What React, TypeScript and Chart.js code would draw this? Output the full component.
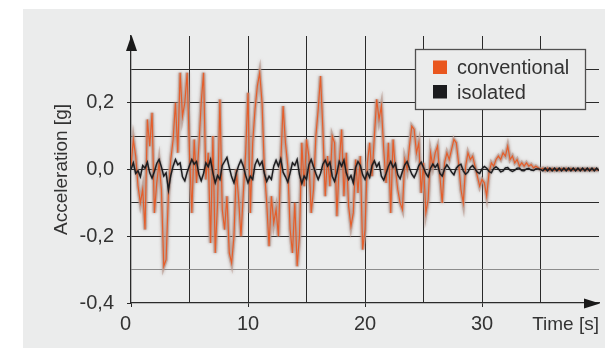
import { useEffect, useRef } from "react";
import { Chart, registerables } from "chart.js";

Chart.register(...registerables);

// ---- data -------------------------------------------------------------
const SAMPLE_STEP_S = 0.2; // sampling interval of both records [s]

const SERIES_NAMES = ["conventional", "isolated"];

// acceleration [g], conventional building, t = 0 ... 40 s
const CONVENTIONAL = [
  0.01, 0.09, 0.04, -0.05, -0.10, -0.06, -0.18, 0.15, 0.07, 0.17,
  -0.13, -0.04, 0.02, -0.06, -0.29, -0.27, -0.07, 0.03, 0.09, 0.20,
  0.05, 0.29, 0.16, 0.20, 0.29, 0.05, -0.13, 0.09, -0.04, 0.07,
  0.20, 0.29, -0.03, 0.05, -0.22, 0.10, -0.25, -0.10, 0.21, -0.12,
  -0.18, -0.08, -0.25, -0.28, -0.20, 0.00, -0.09, -0.20, -0.07, 0.05,
  0.23, -0.13, 0.08, 0.18, 0.25, 0.29, 0.20, 0.00, -0.10, -0.23,
  -0.08, -0.16, -0.12, -0.20, 0.02, 0.19, 0.08, 0.01, -0.18, -0.25,
  -0.10, -0.29, -0.20, 0.08, -0.05, 0.09, 0.04, -0.13, -0.06, 0.10,
  0.18, 0.28, 0.12, -0.08, 0.04, -0.05, 0.10, 0.08, -0.14, 0.02,
  0.12, -0.08, 0.05, -0.11, -0.17, -0.13, 0.03, -0.07, 0.04, -0.24,
  -0.18, 0.02, 0.08, -0.02, 0.10, 0.21, 0.15, 0.19, 0.06, -0.04,
  0.08, -0.13, 0.09, 0.00, -0.06, -0.10, -0.12, 0.03, 0.00, 0.07,
  0.13, 0.12, 0.05, 0.08, -0.07, 0.02, -0.13, -0.09, 0.05, 0.01,
  0.05, 0.07, -0.02, -0.10, 0.02, 0.05, 0.03, 0.06, 0.09, 0.08,
  0.02, -0.06, -0.10, 0.01, 0.05, 0.03, 0.04, 0.01, -0.02, -0.05,
  -0.03, -0.04, -0.08, -0.01, 0.02, 0.01, 0.03, 0.04, 0.03, 0.05,
  0.04, 0.07, 0.03, 0.04, 0.02, 0.03, 0.01, 0.02, 0.01, 0.02,
  0.01, 0.015, 0.005, 0.01, 0.005, 0.0,
  0.004, -0.003, 0.004, -0.003, 0.003, -0.003, 0.003, -0.003, 0.003, -0.002,
  0.003, -0.002, 0.003, -0.002, 0.002, -0.002, 0.002, -0.002, 0.002, -0.002,
  0.002, -0.002, 0.002, -0.002, 0.0,
];

// acceleration [g], base-isolated building, t = 0 ... 40 s
const ISOLATED = [
  0.00, 0.02, -0.012, -0.004, -0.022, 0.012, 0.004, 0.022, -0.01, -0.026,
  -0.006, 0.018, 0.03, 0.008, -0.02, -0.01, -0.062, -0.018, 0.01, 0.03,
  0.014, 0.02, -0.022, -0.034, -0.008, 0.012, 0.03, 0.016, 0.024, -0.014,
  -0.034, -0.012, 0.02, 0.008, 0.03, -0.01, -0.04, -0.018, -0.03, 0.012,
  0.024, 0.036, 0.006, -0.022, -0.04, -0.01, 0.012, 0.028, 0.01, -0.018,
  -0.04, -0.02, -0.03, 0.014, 0.03, 0.012, 0.024, -0.012, -0.036, -0.02,
  -0.03, 0.01, 0.028, 0.01, 0.032, -0.008, -0.022, -0.038, -0.01, 0.02,
  0.012, 0.03, -0.016, -0.042, -0.02, -0.03, 0.014, 0.03, 0.008, -0.012,
  -0.03, -0.012, 0.016, 0.028, 0.01, 0.022, -0.02, -0.036, -0.01, 0.024,
  0.01, 0.028, -0.01, -0.03, -0.018, -0.04, 0.006, 0.024, 0.012, -0.016,
  -0.03, -0.008, -0.024, 0.012, 0.026, 0.008, 0.02, -0.02, -0.032, -0.012,
  0.01, 0.024, 0.006, 0.018, -0.016, -0.028, -0.006, 0.014, 0.024, 0.004,
  -0.014, -0.024, -0.008, 0.012, 0.022, 0.006, -0.012, -0.022, 0.004, 0.016,
  0.006, 0.016, -0.012, -0.02, 0.002, 0.014, 0.004, -0.008, -0.016, 0.004,
  0.012, 0.016, -0.004, -0.014, -0.008, 0.006, 0.012, 0.002, -0.008, -0.012,
  0.002, 0.009, 0.004, -0.006, -0.01, 0.003, 0.008, 0.002, -0.007, -0.004,
  0.005, 0.006, -0.002, -0.006, -0.002, 0.004, 0.004, -0.003, -0.004, 0.002,
  0.003, -0.002, -0.003, 0.002, 0.002, 0.00,
  -0.004, 0.004, -0.004, 0.004, -0.004, 0.004, -0.004, 0.004, -0.004, 0.004,
  -0.004, 0.004, -0.004, 0.004, -0.004, 0.004, -0.004, 0.004, -0.004, 0.004,
  -0.004, 0.004, -0.004, 0.004, -0.004,
];

const X_MIN = 0;
const X_MAX = 40;
const X_STEP = 5;
const X_TICK_LABELS = [0, 10, 20, 30];
const Y_MIN = -0.4;
const Y_MAX = 0.4;
const Y_STEP = 0.1;
const Y_TICK_LABELS = [-0.4, -0.2, 0, 0.2];
const X_TITLE = "Time [s]";
const Y_TITLE = "Acceleration [g]";

// ---- styles -----------------------------------------------------------
const FONT = "'Liberation Sans', Arial, sans-serif";
const TEXT = "#333333";
const PANEL = "#ebecec";
const GRID = "#2a2a2a";
const ORANGE = "#e9571f";
const BLACK = "#1c1c1f";
const HALO_KEY = "conventional (halo)";

const toPoints = (vals: number[]) =>
  vals.map((v, i) => ({ x: +(i * SAMPLE_STEP_S).toFixed(2), y: v }));

const decor = {
  id: "decor",
  beforeDraw(chart: any) {
    const { ctx, width, height } = chart;
    ctx.save();
    ctx.fillStyle = "#ffffff";
    ctx.fillRect(0, 0, width, height);
    ctx.fillStyle = PANEL;
    ctx.fillRect(23, 9, width - 23, height - 10);
    ctx.restore();
  },
  beforeDatasetDraw(chart: any, args: any) {
    const ds = chart.data.datasets[args.index];
    chart.ctx.save();
    if (ds.label === HALO_KEY) {
      chart.ctx.shadowColor = "rgba(150,118,110,0.8)";
      chart.ctx.shadowBlur = 3;
    } else if (ds.label === SERIES_NAMES[1]) {
      chart.ctx.shadowColor = "rgba(40,35,35,0.6)";
      chart.ctx.shadowBlur = 2;
    }
  },
  afterDatasetDraw(chart: any) {
    chart.ctx.restore();
  },
  afterDraw(chart: any) {
    const { ctx, chartArea } = chart;
    const { left, right, top, bottom } = chartArea;
    ctx.save();
    ctx.fillStyle = "#1a1a1a";
    // y arrow
    const ax = Math.round(left) + 0.5;
    ctx.beginPath();
    ctx.moveTo(ax, top - 1);
    ctx.lineTo(ax - 5.5, top + 15);
    ctx.lineTo(ax + 5.5, top + 15);
    ctx.closePath();
    ctx.fill();
    // x arrow
    const ay = Math.round(bottom) + 0.5;
    ctx.beginPath();
    ctx.moveTo(right + 1, ay);
    ctx.lineTo(right - 15, ay - 5);
    ctx.lineTo(right - 15, ay + 5);
    ctx.closePath();
    ctx.fill();

    // x title at the end of the axis
    ctx.fillStyle = TEXT;
    ctx.font = `19px ${FONT}`;
    ctx.textAlign = "right";
    ctx.textBaseline = "alphabetic";
    ctx.fillText(X_TITLE, right, 330);

    // legend
    const bx = 415.5, by = 49.5, bw = 170, bh = 60;
    ctx.fillStyle = PANEL;
    ctx.fillRect(bx, by, bw, bh);
    ctx.strokeStyle = "#505050";
    ctx.lineWidth = 1.3;
    ctx.strokeRect(bx, by, bw, bh);
    const order = SERIES_NAMES.map((n) =>
      chart.data.datasets.find((d: any) => d.label === n)
    );
    ctx.font = `20px ${FONT}`;
    ctx.textAlign = "left";
    order.forEach((d: any, i: number) => {
      const y0 = 60.5 + i * 24.5;
      ctx.fillStyle = d.legendColor;
      ctx.fillRect(433, y0, 14, 13.5);
      ctx.fillStyle = TEXT;
      ctx.fillText(d.label, 457, y0 + 13.5);
    });
    ctx.restore();
  },
};

export default function App() {
  const ref = useRef<HTMLCanvasElement | null>(null);

  useEffect(() => {
    if (!ref.current) return;
    const chart = new Chart(ref.current, {
      type: "line",
      data: {
        datasets: [
          {
            label: SERIES_NAMES[1],
            legendColor: BLACK,
            data: toPoints(ISOLATED),
            borderColor: BLACK,
            borderWidth: 1.4,
            pointRadius: 0,
            tension: 0,
          },
          {
            label: SERIES_NAMES[0],
            legendColor: ORANGE,
            data: toPoints(CONVENTIONAL),
            borderColor: "rgba(233,87,31,0.9)",
            borderWidth: 1.2,
            pointRadius: 0,
            tension: 0,
          },
          {
            label: HALO_KEY,
            data: toPoints(CONVENTIONAL),
            borderColor: "rgba(190,160,150,0.75)",
            borderWidth: 3.5,
            pointRadius: 0,
            tension: 0,
          },
        ],
      },
      options: {
        animation: false,
        responsive: false,
        devicePixelRatio: 1,
        layout: { padding: { left: 0, right: 6, top: 36, bottom: 0 } },
        plugins: {
          legend: { display: false },
          tooltip: { enabled: false },
        },
        scales: {
          x: {
            type: "linear",
            min: X_MIN,
            max: X_MAX,
            afterFit: (s: any) => {
              s.height = 46;
            },
            ticks: {
              stepSize: X_STEP,
              autoSkip: false,
              maxRotation: 0,
              padding: 5,
              color: TEXT,
              font: { family: FONT, size: 20 },
              callback: (v: any) => {
                const n = Number(v);
                if (!X_TICK_LABELS.includes(n)) return "";
                return n === 0 ? "0\u2007" : String(n);
              },
            },
            grid: {
              color: (c: any) => {
                const v = c.tick ? c.tick.value : 0;
                return v === X_MIN || v === X_MAX ? "rgba(0,0,0,0)" : GRID;
              },
              lineWidth: 1,
              tickLength: 4,
              tickColor: (c: any) =>
                c.tick && X_TICK_LABELS.includes(c.tick.value) ? GRID : "rgba(0,0,0,0)",
            },
            border: { display: true, color: GRID, width: 1.3 },
          },
          y: {
            type: "linear",
            min: Y_MIN,
            max: Y_MAX,
            afterFit: (s: any) => {
              s.width = 131;
            },
            title: {
              display: true,
              text: Y_TITLE,
              color: TEXT,
              font: { family: FONT, size: 19 },
              padding: { top: 50.5, bottom: 0 },
            },
            ticks: {
              stepSize: Y_STEP,
              autoSkip: false,
              padding: 13,
              color: TEXT,
              font: { family: FONT, size: 20 },
              callback: (v: any) => {
                const k = Math.round(Number(v) * 10);
                const hit = Y_TICK_LABELS.some((l) => Math.round(l * 10) === k);
                return hit ? (k / 10).toFixed(1).replace(".", ",") : "";
              },
            },
            grid: {
              color: (c: any) => {
                const k = c.tick ? Math.round(c.tick.value * 10) : 0;
                if (k === 4 || k === -4) return "rgba(0,0,0,0)";
                if (k === -3) return "#8c8c8c";
                return GRID;
              },
              lineWidth: 1,
              tickLength: 4,
              tickColor: (c: any) => {
                const k = c.tick ? Math.round(c.tick.value * 10) : 0;
                return Y_TICK_LABELS.some((l) => Math.round(l * 10) === k)
                  ? GRID
                  : "rgba(0,0,0,0)";
              },
            },
            border: { display: true, color: GRID, width: 1.3 },
          },
        },
      },
      plugins: [decor],
    } as any);
    return () => chart.destroy();
  }, []);

  return (
    <div style={{ position: "absolute", left: 0, top: 0, width: 605, height: 349 }}>
      <canvas ref={ref} width={605} height={349} style={{ display: "block" }} />
    </div>
  );
}
